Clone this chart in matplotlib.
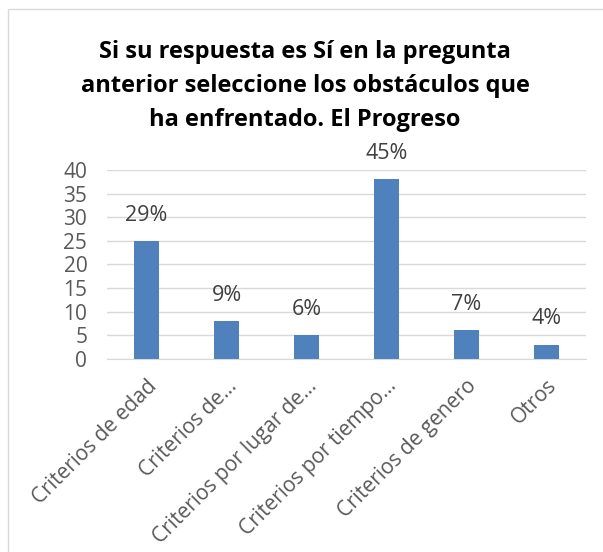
import numpy as np
import matplotlib.pyplot as plt
from matplotlib.patches import Rectangle

categorias = ['Criterios de edad', 'Criterios de...', 'Criterios por lugar de...',
              'Criterios por tiempo...', 'Criterios de genero', 'Otros']
valores = [25, 8, 5, 38, 6, 3]
titulo = 'Si su respuesta es Sí en la pregunta\nanterior seleccione los obstáculos que\nha enfrentado. El Progreso'

total = sum(valores)
porcentajes = ['{:.0f}%'.format(100.0 * v / total) for v in valores]

plt.rcParams['font.family'] = ['Open Sans', 'DejaVu Sans']

fig = plt.figure(figsize=(6.03, 5.52), dpi=100)
ax = fig.add_axes([0.177, 0.35, 0.795, 0.342])

x = np.arange(len(categorias))
barras = ax.bar(x, valores, width=0.31, color='#4f81bd', zorder=3)

for b, p in zip(barras, porcentajes):
    ax.annotate(p, (b.get_x() + b.get_width() / 2, b.get_height()),
                xytext=(0, 11), textcoords='offset points',
                ha='center', va='bottom', fontsize=15.5, color='#404040')

ax.set_xlim(-0.5, len(categorias) - 0.5)
ax.set_ylim(0, 40)
ax.set_yticks(np.arange(0, 41, 5))
ax.set_xticks(x)
ax.set_xticklabels(categorias, rotation=45, ha='right', rotation_mode='anchor',
                   fontsize=15, color='#595959')
ax.tick_params(axis='y', labelsize=15, labelcolor='#595959', length=0, pad=14)
ax.tick_params(axis='x', length=0, pad=12)
ax.grid(axis='y', color='#d9d9d9', linewidth=1, zorder=0)
for s in ['top', 'right', 'left']:
    ax.spines[s].set_visible(False)
ax.spines['bottom'].set_color('#d9d9d9')

fig.text(0.506, 0.928, titulo, ha='center', va='top', fontsize=17,
         fontweight='bold', color='black', linespacing=1.56)

# borde del area del grafico
fig.patches.append(Rectangle((8 / 603, -0.02), 1.0, 1 - 9 / 552 + 0.02,
                             transform=fig.transFigure, fill=False,
                             edgecolor='#d9d9d9', linewidth=1))

fig.savefig('out.png', dpi=100)
